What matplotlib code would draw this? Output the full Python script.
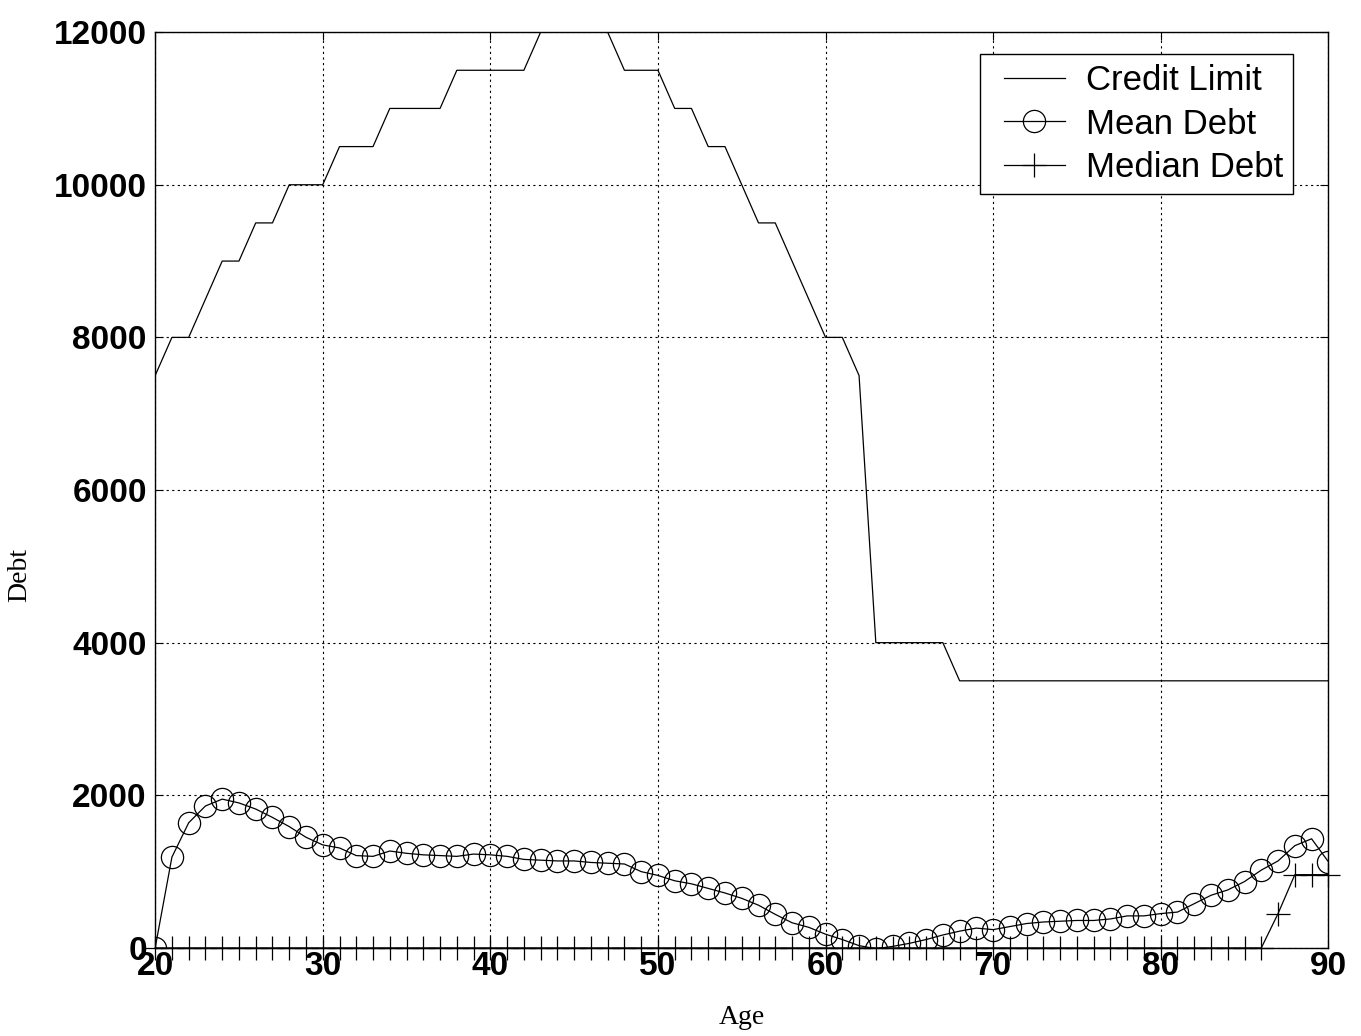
import numpy as np
import matplotlib
matplotlib.use("Agg")
import matplotlib.pyplot as plt
from matplotlib.lines import Line2D
from matplotlib.legend_handler import HandlerLine2D

# ages 20..90, one value per year
ages = list(range(20, 91))

credit_limit = [7500, 8000, 8000, 8500, 9000, 9000, 9500, 9500, 10000, 10000,
                10000, 10500, 10500, 10500, 11000, 11000, 11000, 11000, 11500, 11500,
                11500, 11500, 11500, 12000, 12000, 12000, 12000, 12000, 11500, 11500,
                11500, 11000, 11000, 10500, 10500, 10000, 9500, 9500, 9000, 8500,
                8000, 8000, 7500, 4000, 4000, 4000, 4000, 4000, 3500, 3500,
                3500, 3500, 3500, 3500, 3500, 3500, 3500, 3500, 3500, 3500,
                3500, 3500, 3500, 3500, 3500, 3500, 3500, 3500, 3500, 3500,
                3500]

mean_debt = [0, 1190, 1640, 1860, 1950, 1900, 1820, 1710, 1590, 1450,
             1350, 1310, 1210, 1200, 1270, 1240, 1220, 1210, 1200, 1230,
             1220, 1200, 1160, 1150, 1140, 1140, 1120, 1110, 1100, 1000,
             950, 880, 840, 780, 720, 650, 560, 440, 330, 270,
             180, 110, 30, -10, 20, 60, 110, 170, 220, 260,
             240, 280, 320, 340, 350, 360, 360, 380, 420, 420,
             450, 470, 580, 690, 760, 870, 1020, 1140, 1340, 1430,
             1130]

median_debt = [0] * 67 + [450, 960, 960, 960]

labels = ["Credit Limit", "Mean Debt", "Median Debt"]
x_ticks = [20, 30, 40, 50, 60, 70, 80, 90]
y_ticks = [0, 2000, 4000, 6000, 8000, 10000, 12000]

plt.rcParams['font.family'] = ['Liberation Sans', 'DejaVu Sans']

fig = plt.figure(figsize=(13.61, 10.36), dpi=100)
ax = fig.add_axes([0.114, 0.085, 0.862, 0.884])

ax.plot(ages, credit_limit, color='black', lw=0.9, label=labels[0])
ax.plot(ages, mean_debt, color='black', lw=0.9, marker='o', ms=16,
        mfc='none', mec='black', mew=0.9, label=labels[1])
ax.plot(ages, median_debt, color='black', lw=0.9, marker='+', ms=17,
        mew=0.9, label=labels[2], clip_on=False)

ax.set_xlim(20, 90)
ax.set_ylim(0, 12000)
ax.set_xticks(x_ticks)
ax.set_yticks(y_ticks)
ax.grid(True, color='black', lw=0.8, linestyle=(0, (2, 3)))
ax.tick_params(direction='in', top=True, right=True, length=6, labelsize=24)
ax.tick_params(axis='x', pad=2)
ax.tick_params(axis='y', pad=6)
for lab in ax.get_xticklabels() + ax.get_yticklabels():
    lab.set_fontweight('bold')
for s in ax.spines.values():
    s.set_linewidth(1.0)

ax.set_xlabel("Age", family='Liberation Serif', fontsize=20)
ax.set_ylabel("Debt", family='Liberation Serif', fontsize=20)
ax.xaxis.set_label_coords(0.5, -0.062)
ax.yaxis.set_label_coords(-0.105, 0.407)

# small left offset for the legend samples, like the original
hmap = {Line2D: HandlerLine2D(xpad=0.4)}
leg = ax.legend(loc='upper right', bbox_to_anchor=(0.970, 0.976), borderaxespad=0,
                fontsize=25, fancybox=False, framealpha=1, edgecolor='black',
                handlelength=2.16, handletextpad=0.6, labelspacing=0.3, borderpad=0.29,
                handler_map=hmap)
leg.get_frame().set_linewidth(1.0)

fig.savefig("out.png", dpi=100)
